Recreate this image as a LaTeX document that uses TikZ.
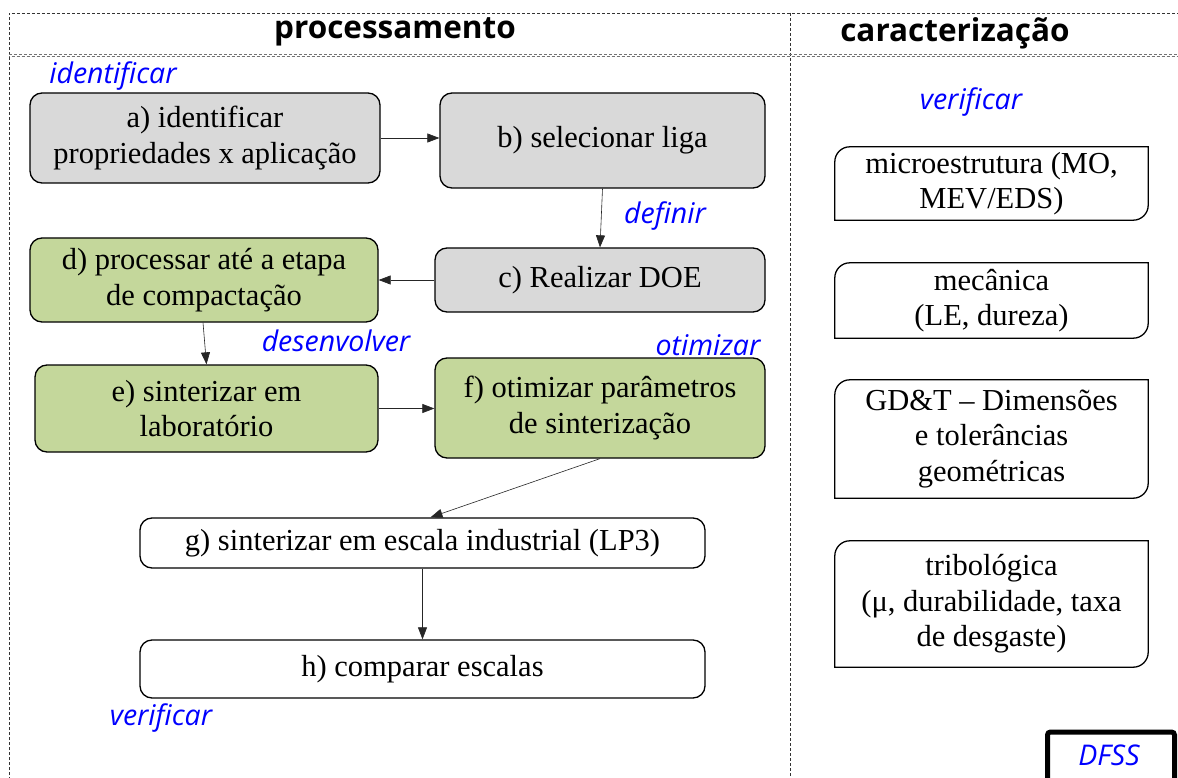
\documentclass[tikz,border=0pt]{standalone}
\usepackage{fontspec}
\setmainfont{Liberation Serif}
\newfontfamily\hdrfont{Open Sans}
\usetikzlibrary{arrows.meta}
\definecolor{boxgray}{RGB}{217,217,217}
\definecolor{boxgreen}{RGB}{196,215,155}
\definecolor{lblblue}{RGB}{0,0,255}
\tikzset{
  stepbox/.style={draw=black, line width=1.3pt, rounded corners=12pt, align=center, inner sep=2pt,
    font=\fontsize{30.5}{35.5}\selectfont},
  graybox/.style={stepbox, fill=boxgray},
  greenbox/.style={stepbox, fill=boxgreen},
  whitebox/.style={stepbox, fill=white},
  charbox/.style={align=center, inner sep=2pt, font=\fontsize{30.5}{35.5}\selectfont},
  charframe/.style={draw=black, line width=1.3pt},
  conn/.style={-{Triangle[length=12pt,width=9pt]}, line width=0.6pt, draw=black!85},
  lbl/.style={text=lblblue, font=\hdrfont\itshape\fontsize{28.5}{30}\selectfont, inner sep=0pt},
  hdr/.style={font=\hdrfont\bfseries\fontsize{31.5}{34}\selectfont, inner sep=0pt},
  frameline/.style={draw=black!80, line width=0.6pt, dash pattern=on 3pt off 2pt},
}
\newcommand{\diagframe}[1]{%
  \draw[charframe] (#1.south west) -- ([yshift=-15pt]#1.north west)
    arc[start angle=180,end angle=90,radius=15pt] -- (#1.north east)
    -- ([yshift=15pt]#1.south east)
    arc[start angle=0,end angle=-90,radius=15pt] -- cycle;}
\begin{document}
\begin{tikzpicture}[x=1pt,y=-1pt]
\useasboundingbox (0,0) rectangle (1178,778);
\clip (0,0) rectangle (1178,778);
\fill[white] (0,0) rectangle (1178,778);
% frame
\coordinate (tl) at (9,13);
\coordinate (tr) at (1180,13);
\coordinate (bl) at (9,780);
\coordinate (dt) at (790,13);
\coordinate (db) at (790,780);
\coordinate (sl) at (9,55);
\coordinate (sr) at (1180,55);
\draw[frameline] (bl) -- (tl) -- (tr);
\draw[frameline] (dt) -- (db);
\draw[frameline, draw=black!55, line width=0.8pt] ([yshift=1pt]sl) -- ([yshift=1pt]sr);
\draw[frameline, draw=black!55, line width=0.8pt, dash phase=2.5pt] ([yshift=-1pt]sl) -- ([yshift=-1pt]sr);
% headers
\node[hdr] (hp) at (395,32) {processamento};
\node[hdr] (hc) at (955,33) {caracterização};
% process boxes
\node[graybox, minimum width=350pt, minimum height=90pt] (a) at (205,138) {a) identificar\\propriedades x aplicação};
\node[graybox, minimum width=325pt, minimum height=95pt] (b) at (602.5,140.5) {b) selecionar liga};
\node[graybox, minimum width=330pt, minimum height=64pt] (c) at (600,280) {c) Realizar DOE};
\node[greenbox, minimum width=348pt, minimum height=84pt] (d) at (204,280) {d) processar até a etapa\\de compactação};
\node[greenbox, minimum width=343pt, minimum height=87pt] (e) at (206.5,408.5) {e) sinterizar em\\laboratório};
\node[greenbox, minimum width=330pt, minimum height=100pt] (f) at (600,408) {f) otimizar parâmetros\\de sinterização};
\node[whitebox, minimum width=565pt, minimum height=50pt] (g) at (422.5,543) {g) sinterizar em escala industrial (LP3)};
\node[whitebox, minimum width=565pt, minimum height=58pt] (h) at (422.5,669) {h) comparar escalas};
% connectors
\draw[conn] (a.east) -- (a.east -| b.west);
\draw[conn] (b.south) -- (c.north);
\draw[conn] (c.west) -- (c.west -| d.east);
\draw[conn] ([xshift=-1pt]d.south) -- (e.north);
\draw[conn] (e.east) -- (e.east -| f.west);
\draw[conn] (f.south) -- ([xshift=8pt]g.north);
\draw[conn] (g.south) -- (h.north);
% blue labels
\node[lbl] (l1) at (113,76) {identificar};
\node[lbl] (l2) at (665,216) {definir};
\node[lbl] (l3) at (336,341) {desenvolver};
\node[lbl] (l4) at (708,345) {otimizar};
\node[lbl] (l5) at (161,718) {verificar};
\node[lbl] (l6) at (971,102) {verificar};
% characterization boxes
\node[charbox, minimum width=313pt, minimum height=73pt] (m1) at (991.5,183.5) {microestrutura (MO,\\MEV/EDS)};
\node[charbox, minimum width=313pt, minimum height=75pt] (m2) at (991.5,300.5) {mecânica\\(LE, dureza)};
\node[charbox, minimum width=313pt, minimum height=118pt] (m3) at (991.5,439) {GD\&T – Dimensões\\e tolerâncias\\geométricas};
\node[charbox, minimum width=313pt, minimum height=126pt] (m4) at (991.5,604) {tribológica\\(μ, durabilidade, taxa\\de desgaste)};
\diagframe{m1}
\diagframe{m2}
\diagframe{m3}
\diagframe{m4}
% DFSS
\node[draw=black, line width=5pt, rounded corners=3pt, minimum width=127pt, minimum height=60pt, anchor=north west] (dfss) at (1045,729.5) {};
\node[lbl] (dfsst) at (1109,755) {DFSS};
\end{tikzpicture}
\end{document}
